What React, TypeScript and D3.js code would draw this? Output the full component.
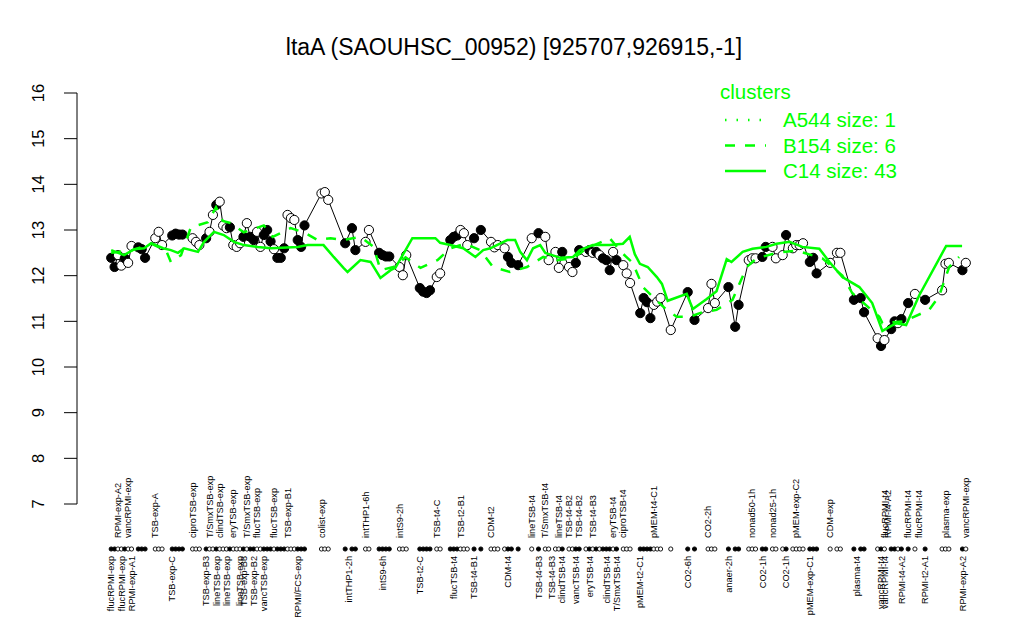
import React from 'react';
import * as d3 from 'd3';

const title = 'ltaA (SAOUHSC_00952) [925707,926915,-1]';
const yTicks = [7, 8, 9, 10, 11, 12, 13, 14, 15, 16];

// [sample position, expression value, filled (1) / open (0)]
const samples: [number, number, number][] = [
  [0,12.39,1],[1,12.19,1],[2,12.45,0],[3,12.22,0],[4,12.38,1],[5,12.28,0],[6,12.65,0],[8,12.62,1],[9,12.58,1],[10,12.39,1],
  [13,12.82,0],[14,12.96,0],[15,12.67,0],
  [18,12.88,1],[19,12.92,1],[20,12.9,1],[21,12.9,1],
  [24,12.82,0],[25,12.74,0],[26,12.67,0],
  [28,12.82,1],[29,12.96,0],[30,13.33,0],[31,13.55,1],[32,13.62,0],[33,13.1,0],[34,13.04,0],[35,13.06,1],[36,12.67,0],[37,12.63,0],[38,12.71,0],[39,12.85,1],[40,13.15,0],[41,12.85,1],[42,12.78,1],[43,12.96,0],[44,12.63,0],[45,12.89,1],[46,13.0,1],[47,12.75,1],[48,12.58,0],[49,12.39,1],[50,12.39,1],[51,12.6,1],
  [52,13.33,0],[53,13.26,0],[54,13.22,0],
  [55,12.78,1],[56,12.63,1],[57,13.1,1],
  [62,13.8,0],[63,13.83,0],[64,13.66,0],
  [69,12.71,1],[71,13.04,1],[72,12.56,1],
  [75,12.74,0],[76,13.0,0],
  [79,12.5,1],[80,12.45,1],[81,12.42,1],[82,12.42,1],
  [85,12.19,0],[86,12.01,0],[87,12.45,0],
  [91,11.73,1],[92,11.65,1],[93,11.62,1],[94,11.68,1],
  [96,11.97,0],[97,12.05,0],
  [100,12.78,1],[101,12.85,1],[102,12.88,1],
  [103,13.0,0],[104,12.93,0],[105,12.67,0],
  [107,12.82,1],[109,13.0,1],
  [112,12.74,0],[113,12.62,0],[114,12.67,0],[116,12.6,0],
  [117,12.41,1],[118,12.28,1],[120,12.23,1],
  [124,12.82,0],[126,12.93,1],[128,12.85,0],[129,12.34,0],[131,12.52,0],[132,12.17,0],[133,12.52,1],[135,12.19,0],[136,12.08,0],[137,12.28,1],[138,12.56,1],[140,12.52,0],[141,12.56,1],[142,12.5,0],[143,12.52,1],[144,12.45,0],[145,12.38,1],[146,12.34,1],[147,12.12,1],[148,12.52,0],[149,12.34,1],[151,12.23,0],[152,12.05,0],[153,11.84,0],
  [156,11.18,1],[157,11.51,1],[158,11.42,1],[159,11.07,1],
  [160,11.36,0],[161,11.43,0],[162,11.51,0],[165,10.81,0],
  [170,11.64,1],[172,11.03,1],
  [176,11.29,0],[177,11.82,0],[178,11.4,0],
  [182,11.75,1],[184,10.88,1],[185,11.36,1],
  [188,12.34,0],[189,12.38,0],[190,12.38,0],[192,12.41,1],[193,12.63,1],
  [195,12.63,0],[196,12.38,0],[198,12.45,0],
  [199,12.89,1],
  [201,12.6,0],[202,12.67,0],[203,12.67,0],[204,12.71,0],
  [206,12.3,1],[207,12.39,1],[208,12.05,1],
  [212,12.28,0],[214,12.5,0],[215,12.5,0],
  [219,11.47,1],[221,11.51,1],[222,11.2,1],
  [226,10.63,0],[227,10.46,1],[228,10.59,0],[230,10.83,1],[231,11.0,1],[232,10.96,0],[233,11.05,1],[235,11.4,1],[237,11.6,0],
  [240,11.47,1],
  [245,11.68,0],[246,12.26,0],[247,12.28,0],
  [251,12.12,1],[252,12.28,0],
];

const topLabels: [number, string][] = [
  [2,'RPMI-exp-A2'],[5,'vancRPMI-exp'],[13,'TSB-exp-A'],[24,'ciproTSB-exp'],[29,'T/SmxTSB-exp'],[32,'clindTSB-exp'],
  [36,'eryTSB-exp'],[40,'T/SmxTSB-exp'],[43,'flucTSB-exp'],[48,'flucTSB-exp'],[52,'TSB-exp-B1'],[62,'colist-exp'],
  [75,'intTHP1-6h'],[85,'intS9-2h'],[96,'TSB-t4-C'],[103,'TSB-t2-B1'],[112,'CDM-t2'],[124,'lineTSB-t4'],
  [128,'T/SmxTSB-t4'],[132,'lineTSB-t4'],[135,'TSB-t4-B2'],[138,'TSB-t4-B2'],[142,'TSB-t4-B3'],[148,'eryTSB-t4'],
  [151,'ciproTSB-t4'],[160,'pMEM-t4-C1'],[176,'CO2-2h'],[189,'nonad50-1h'],[195,'nonad25-1h'],[202,'pMEM-exp-C2'],
  [212,'CDM-exp'],[228,'flucRPMI-t4'],[229,'RPMI-t4-A2'],[235,'flucRPMI-t4'],[238,'flucRPMI-t4'],[246,'plasma-exp'],
  [252,'vancRPMI-exp'],
];

const bottomLabels: [number, string][] = [
  [0,'flucRPMI-exp'],[3,'flucRPMI-exp'],[6,'RPMI-exp-A1'],[18,'TSB-exp-C'],[28,'TSB-exp-B3'],[31,'lineTSB-exp'],
  [34,'lineTSB-exp'],[38,'lineTSB-exp'],[39,'TSB-exp-B3'],[42,'TSB-exp-B2'],[45,'vancTSB-exp'],[55,'RPMI/FCS-exp'],
  [70,'intTHP1-2h'],[80,'intS9-6h'],[91,'TSB-t2-C'],[101,'flucTSB-t4'],[107,'TSB-t4-B1'],[117,'CDM-t4'],
  [126,'TSB-t4-B3'],[130,'TSB-t4-B3'],[133,'clindTSB-t4'],[137,'vancTSB-t4'],[141,'eryTSB-t4'],[146,'clindTSB-t4'],
  [149,'T/SmxTSB-t4'],[156,'pMEM-t2-C1'],[170,'CO2-6h'],[182,'anaer-2h'],[192,'CO2-1h'],[199,'CO2-1h'],
  [206,'pMEM-exp-C1'],[220,'plasma-t4'],[227,'vancRPMI-t4'],[228,'vancRPMI-t4'],[233,'RPMI-t4-A2'],[240,'RPMI-t2-A1'],
  [251,'RPMI-exp-A2'],
];

// cluster profiles [position, value]
const clusterC14: [number, number][] = [
  [0,12.56],[3.8,12.45],[6.8,12.58],[9.7,12.6],[11.8,12.71],[15.3,12.6],[17.6,12.56],[19.7,12.5],[21.5,12.6],
  [25.6,12.52],[27.4,12.74],[30.3,12.96],[33.2,12.89],[36.2,12.74],[39.1,12.67],[43.2,12.63],[47.1,12.6],
  [55,12.63],[57.9,12.67],[62.6,12.67],[65.6,12.41],[68.5,12.17],[69.7,12.08],[73.5,12.34],[76.5,12.3],
  [79.4,11.95],[82.4,12.12],[83.8,12.17],[88.8,12.82],[95.6,12.82],[97,12.72],[100,12.67],[103.8,12.6],
  [107.4,12.41],[109.7,12.56],[111.8,12.6],[116.8,12.78],[119.1,12.78],[120.6,12.52],[122.6,12.34],
  [124.4,12.6],[126.5,12.67],[128,12.5],[132.4,12.39],[136.2,12.41],[138.2,12.56],[142,12.67],[147,12.67],
  [150.9,12.7],[152.9,12.85],[154.4,12.47],[155.9,12.26],[158.2,12.19],[160.9,11.97],[162.4,11.82],
  [164.1,11.45],[169.7,11.6],[171.5,11.27],[175.6,11.49],[178.5,11.66],[181.5,12.36],[182.9,12.3],
  [186.2,12.52],[189.1,12.59],[193.2,12.63],[196.2,12.7],[200,12.74],[203.8,12.63],[208.8,12.59],
  [211.8,12.3],[215.6,11.97],[220.6,11.75],[224.4,11.4],[227.4,10.79],[231.5,10.96],[234.4,10.92],
  [238.2,11.56],[246.2,12.65],[250.9,12.65],
];

const clusterB154: [number, number][] = [
  [0,12.5],[5.9,12.55],[11.8,12.7],[16.2,12.55],[17.6,12.3],[20.6,12.45],[23.5,13.06],[28.5,13.17],[30.9,13.5],
  [32.9,13.2],[35.3,13.15],[39.1,12.95],[45,13.1],[47.6,12.85],[52.9,13.04],[56.8,12.95],[60.9,12.78],
  [64.7,12.82],[68.5,12.78],[73.5,12.85],[77.4,12.63],[79.4,12.12],[83.2,12.19],[86.8,12.4],[91.2,12.17],
  [96.2,12.34],[100,12.6],[104.4,12.7],[108.8,12.56],[112.6,12.19],[117.6,12.08],[122.6,12.19],[127.4,12.41],
  [131.5,12.34],[136.2,12.38],[140.3,12.6],[147,12.82],[150.6,12.5],[153.8,12.28],[156.8,11.75],[160.9,11.45],
  [163.8,11.25],[166.8,11.1],[170.6,11.1],[174.4,11.2],[178.5,11.25],[183.2,11.47],[187.4,12.19],[190.3,12.38],
  [196.2,12.5],[202,12.55],[209.7,12.38],[215.6,12.0],[218.5,11.62],[226.5,11.1],[227.4,10.96],[233.8,11.0],
  [241.2,11.25],[244.1,11.55],[247.1,12.19],[250,12.41],
];

const legendTitle = 'clusters';
const legendNames = ['A544 size: 1', 'B154 size: 6', 'C14 size: 43'];
const legendDashes = ['1.5,10', '10,10', 'none'];

const GREEN = '#00ff00';
const FONT = '"Liberation Sans", Arial, Helvetica, sans-serif';

export default function App() {
  const W = 1024, H = 640;
  const left = 77, right = 1000;
  const ext = d3.extent(samples, (d) => d[0]) as [number, number];
  const pad = (ext[1] - ext[0]) * 0.04;
  const x = d3.scaleLinear().domain([ext[0] - pad, ext[1] + pad]).range([left, right]);
  const y = d3.scaleLinear().domain([7, 16]).range([504, 93]);

  const line = d3.line<[number, number]>().x((d) => x(d[0])).y((d) => y(d[1]));
  const dataLine = line(samples.map((s) => [s[0], s[1]] as [number, number])) || '';
  const c14 = line(clusterC14) || '';
  const b154 = line(clusterB154) || '';

  const dotY = 549;
  const topY = 538;
  const botY = 556;

  return (
    <svg width={W} height={H} style={{ display: 'block', position: 'absolute', left: 0, top: 0 }} fontFamily={FONT}>
      <rect width={W} height={H} fill="#fff" />
      <text x={514} y={55} textAnchor="middle" fontSize={23} fill="#000">{title}</text>

      {/* y axis */}
      <line x1={left} x2={left} y1={y(7)} y2={y(16)} stroke="#000" strokeWidth={1} />
      {yTicks.map((t) => (
        <g key={t}>
          <line x1={left - 13} x2={left} y1={y(t)} y2={y(t)} stroke="#000" strokeWidth={1} />
          <text transform={`translate(44,${y(t)}) rotate(-90)`} textAnchor="middle" fontSize={16.5} fill="#000">{t}</text>
        </g>
      ))}

      {/* data line and points */}
      <path d={dataLine} fill="none" stroke="#000" strokeWidth={1} />
      {samples.map((s, i) => (
        <circle key={i} cx={x(s[0])} cy={y(s[1])} r={4.6} fill={s[2] ? '#000' : '#fff'} stroke="#000" strokeWidth={1} />
      ))}

      {/* cluster profiles */}
      <path d={c14} fill="none" stroke={GREEN} strokeWidth={2.5} />
      <path d={b154} fill="none" stroke={GREEN} strokeWidth={2.5} strokeDasharray="10,10" />

      {/* sample dot row */}
      {samples.map((s, i) => (
        <circle key={'d' + i} cx={x(s[0])} cy={dotY} r={2.1} fill={s[2] ? '#000' : '#fff'} stroke="#000" strokeWidth={0.9} />
      ))}
      {topLabels.map(([p, n], i) => (
        <text key={'t' + i} transform={`translate(${x(p) + 3.2},${topY}) rotate(-90)`} textAnchor="start" fontSize={9.2} fill="#000">{n}</text>
      ))}
      {bottomLabels.map(([p, n], i) => (
        <text key={'b' + i} transform={`translate(${x(p) + 3.2},${botY}) rotate(-90)`} textAnchor="end" fontSize={9.2} fill="#000">{n}</text>
      ))}

      {/* legend */}
      <text x={720} y={99} fontSize={20.5} fill={GREEN}>{legendTitle}</text>
      {legendNames.map((n, i) => {
        const ly = 120 + i * 25.5;
        return (
          <g key={n}>
            <line x1={725} x2={766} y1={ly} y2={ly} stroke={GREEN} strokeWidth={2.5} strokeDasharray={legendDashes[i] === 'none' ? undefined : legendDashes[i]} />
            <text x={783} y={ly + 7} fontSize={20.5} fill={GREEN}>{n}</text>
          </g>
        );
      })}
    </svg>
  );
}
